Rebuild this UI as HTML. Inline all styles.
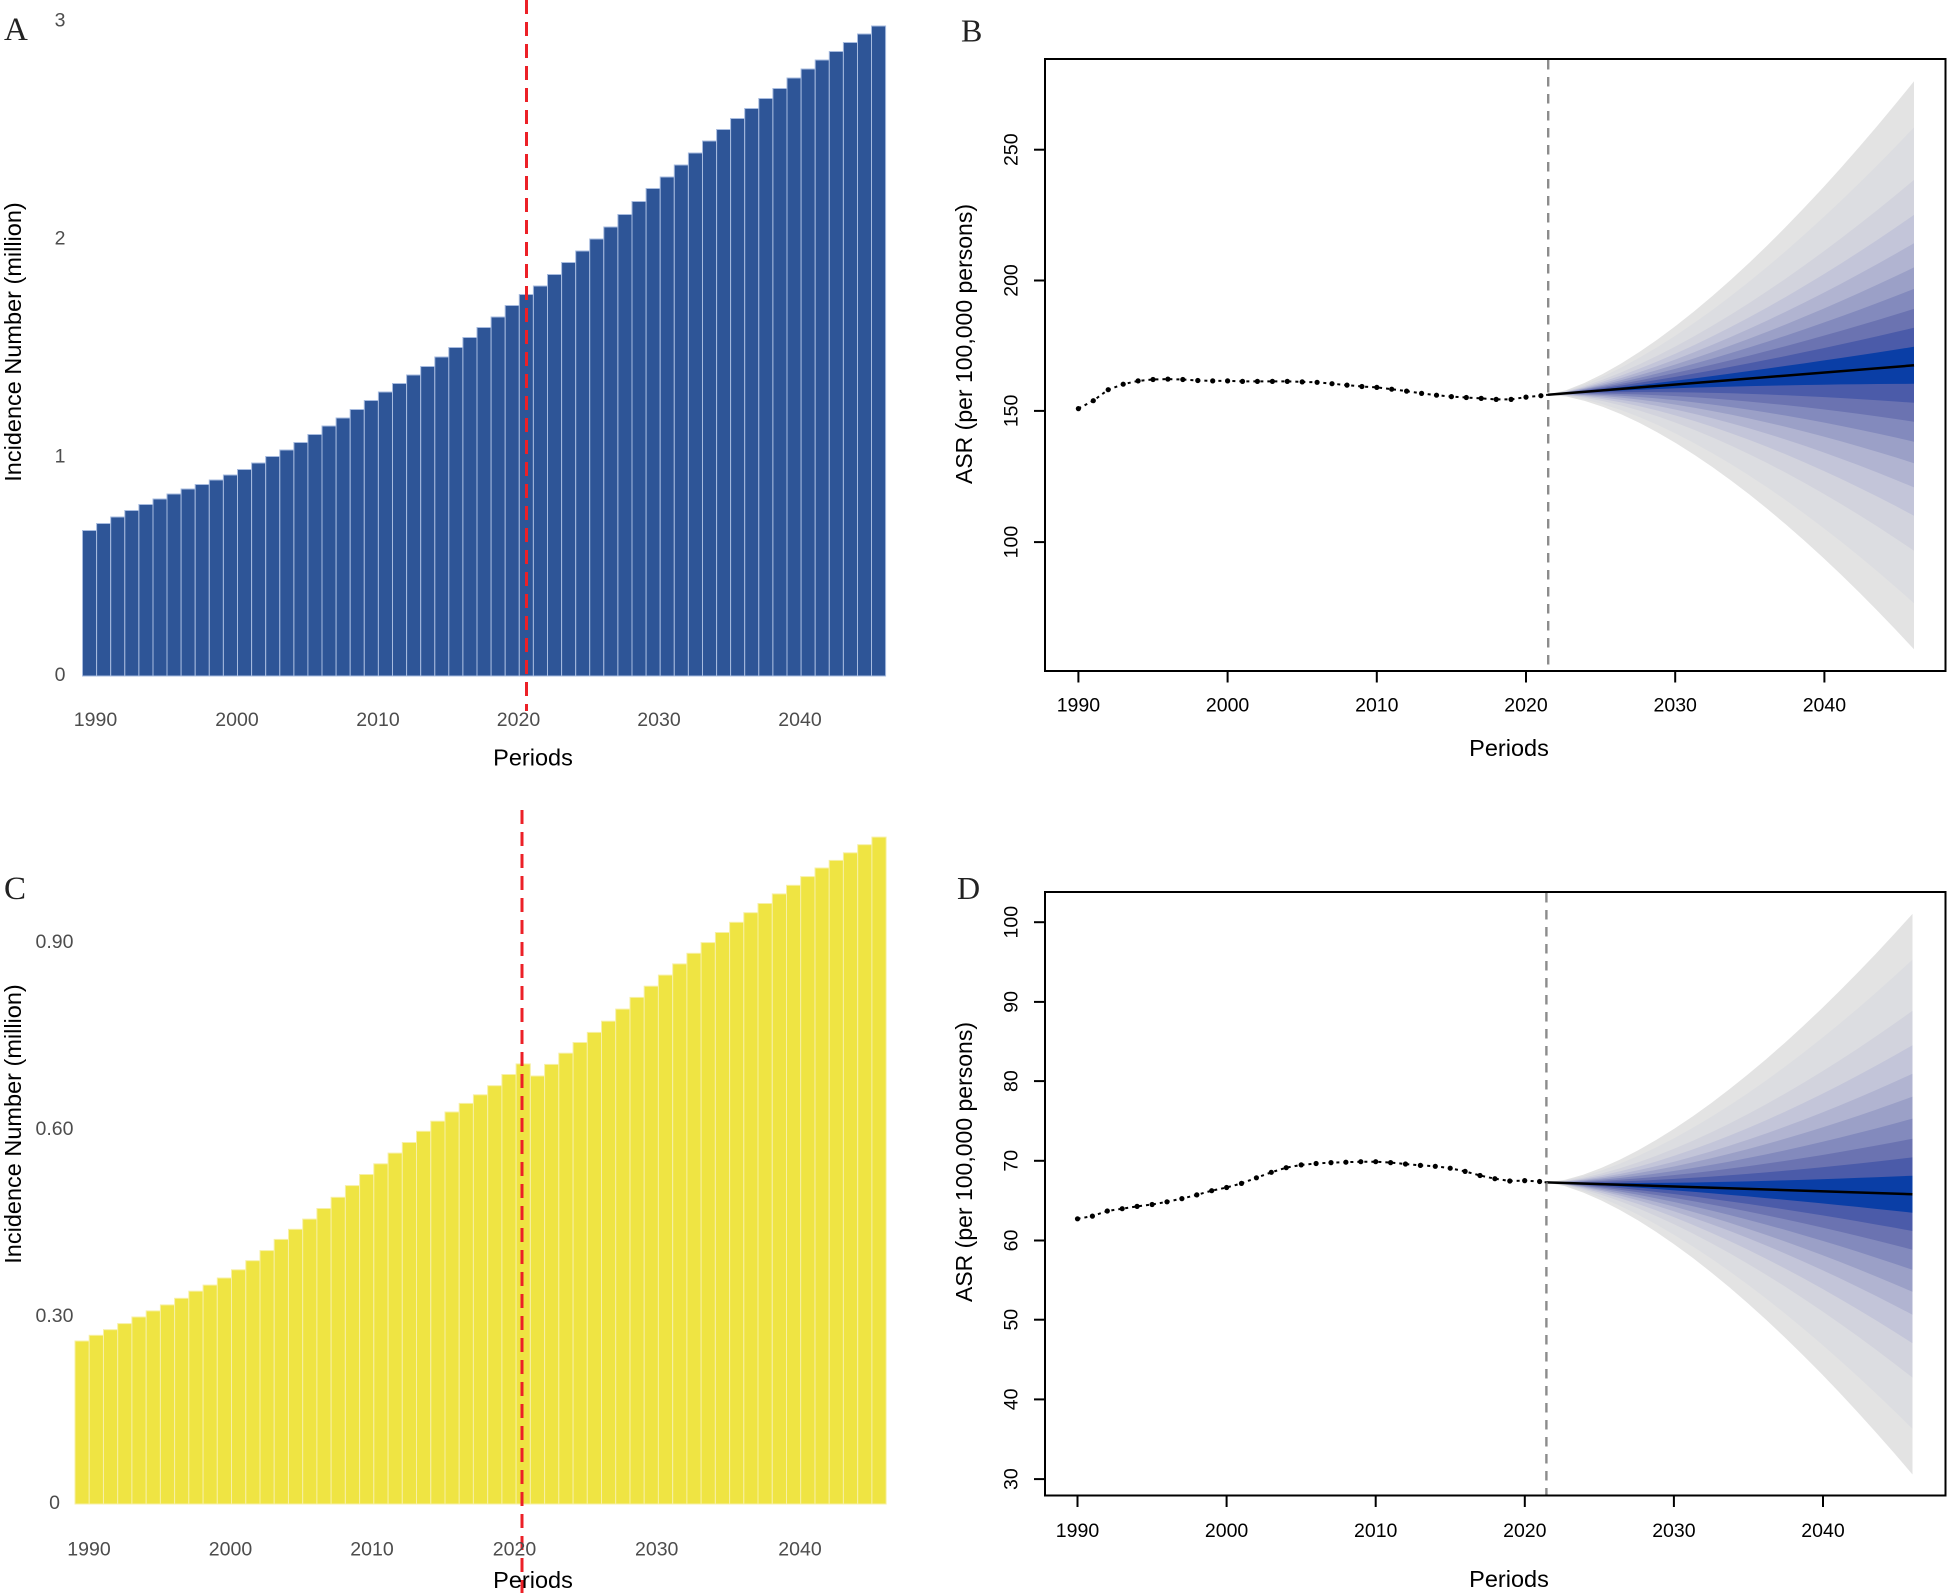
<!DOCTYPE html>
<html><head><meta charset="utf-8"><style>html,body{margin:0;padding:0;background:#fff}svg{display:block}</style></head>
<body>
<svg width="1948" height="1593" viewBox="0 0 1948 1593" xmlns="http://www.w3.org/2000/svg" font-family="'Liberation Sans', Arial, sans-serif">
<defs>
<path id="fan" d="M0,0 L.05,-.01118 L.1,-.03162 L.15,-.05809 L.2,-.08944 L.25,-.125 L.3,-.1643 L.35,-.2071 L.4,-.2530 L.45,-.3019 L.5,-.3536 L.55,-.4079 L.6,-.4648 L.65,-.5240 L.7,-.5857 L.75,-.6495 L.8,-.7155 L.85,-.7837 L.9,-.8538 L.95,-.9260 L1,-1 L1,1 L.95,.9260 L.9,.8538 L.85,.7837 L.8,.7155 L.75,.6495 L.7,.5857 L.65,.5240 L.6,.4648 L.55,.4079 L.5,.3536 L.45,.3019 L.4,.2530 L.35,.2071 L.3,.1643 L.25,.125 L.2,.08944 L.15,.05809 L.1,.03162 L.05,.01118 Z"/>
</defs>
<rect width="1948" height="1593" fill="#fff"/>

<!-- ================= PANEL A ================= -->
<g fill="#2e5597" stroke="#a7bbdf" stroke-width="1">
<rect x="82.5" y="530.5" width="14.09" height="145.5"/>
<rect x="96.6" y="523.5" width="14.09" height="152.5"/>
<rect x="110.7" y="517" width="14.09" height="159"/>
<rect x="124.8" y="510.5" width="14.09" height="165.5"/>
<rect x="138.9" y="504.5" width="14.09" height="171.5"/>
<rect x="153" y="499" width="14.09" height="177"/>
<rect x="167" y="494" width="14.09" height="182"/>
<rect x="181.1" y="489" width="14.09" height="187"/>
<rect x="195.2" y="484.5" width="14.09" height="191.5"/>
<rect x="209.3" y="480" width="14.09" height="196"/>
<rect x="223.4" y="475" width="14.09" height="201"/>
<rect x="237.5" y="469.5" width="14.09" height="206.5"/>
<rect x="251.6" y="463" width="14.09" height="213"/>
<rect x="265.7" y="456.5" width="14.09" height="219.5"/>
<rect x="279.8" y="450" width="14.09" height="226"/>
<rect x="293.9" y="442.5" width="14.09" height="233.5"/>
<rect x="307.9" y="434.5" width="14.09" height="241.5"/>
<rect x="322" y="426" width="14.09" height="250"/>
<rect x="336.1" y="418" width="14.09" height="258"/>
<rect x="350.2" y="409.5" width="14.09" height="266.5"/>
<rect x="364.3" y="400.5" width="14.09" height="275.5"/>
<rect x="378.4" y="392" width="14.09" height="284"/>
<rect x="392.5" y="383.5" width="14.09" height="292.5"/>
<rect x="406.6" y="375" width="14.09" height="301"/>
<rect x="420.7" y="366.5" width="14.09" height="309.5"/>
<rect x="434.8" y="357" width="14.09" height="319"/>
<rect x="448.8" y="347.5" width="14.09" height="328.5"/>
<rect x="462.9" y="337.5" width="14.09" height="338.5"/>
<rect x="477" y="327.5" width="14.09" height="348.5"/>
<rect x="491.1" y="317" width="14.09" height="359"/>
<rect x="505.2" y="305.5" width="14.09" height="370.5"/>
<rect x="519.3" y="294.5" width="14.09" height="381.5"/>
<rect x="533.4" y="286" width="14.09" height="390"/>
<rect x="547.5" y="274.5" width="14.09" height="401.5"/>
<rect x="561.6" y="262.5" width="14.09" height="413.5"/>
<rect x="575.7" y="251" width="14.09" height="425"/>
<rect x="589.7" y="239" width="14.09" height="437"/>
<rect x="603.8" y="227" width="14.09" height="449"/>
<rect x="617.9" y="214.5" width="14.09" height="461.5"/>
<rect x="632" y="201.5" width="14.09" height="474.5"/>
<rect x="646.1" y="188.5" width="14.09" height="487.5"/>
<rect x="660.2" y="177" width="14.09" height="499"/>
<rect x="674.3" y="165" width="14.09" height="511"/>
<rect x="688.4" y="153" width="14.09" height="523"/>
<rect x="702.5" y="141" width="14.09" height="535"/>
<rect x="716.6" y="129.5" width="14.09" height="546.5"/>
<rect x="730.6" y="118.5" width="14.09" height="557.5"/>
<rect x="744.7" y="108.5" width="14.09" height="567.5"/>
<rect x="758.8" y="98.5" width="14.09" height="577.5"/>
<rect x="772.9" y="88.5" width="14.09" height="587.5"/>
<rect x="787" y="78" width="14.09" height="598"/>
<rect x="801.1" y="69" width="14.09" height="607"/>
<rect x="815.2" y="60" width="14.09" height="616"/>
<rect x="829.3" y="51.5" width="14.09" height="624.5"/>
<rect x="843.4" y="42.5" width="14.09" height="633.5"/>
<rect x="857.5" y="34" width="14.09" height="642"/>
<rect x="871.5" y="26" width="14.09" height="650"/>
</g>
<line x1="526.5" y1="0" x2="526.5" y2="711" stroke="#ec2027" stroke-width="3" stroke-dasharray="14,8"/>
<g font-size="19.5" fill="#4d4d4d" text-anchor="middle">
<text x="60" y="19.7" dy=".35em">3</text>
<text x="60" y="237.8" dy=".35em">2</text>
<text x="60" y="455.9" dy=".35em">1</text>
<text x="60" y="674" dy=".35em">0</text>
<text x="95.5" y="719" dy=".35em">1990</text>
<text x="237" y="719" dy=".35em">2000</text>
<text x="378" y="719" dy=".35em">2010</text>
<text x="518.5" y="719" dy=".35em">2020</text>
<text x="659" y="719" dy=".35em">2030</text>
<text x="800" y="719" dy=".35em">2040</text>
</g>
<text x="533" y="757.5" dy=".35em" font-size="23.5" text-anchor="middle" fill="#000">Periods</text>
<text transform="translate(13,342) rotate(-90)" dy=".35em" font-size="23.5" text-anchor="middle" fill="#000">Incidence Number (million)</text>
<text x="4" y="40" font-family="'Liberation Serif', serif" font-size="33" fill="#222">A</text>

<!-- ================= PANEL B ================= -->
<g>
<use href="#fan" transform="translate(1548,394.8) matrix(366,-29.5,0,284,0,0)" fill="#e3e3e3"/>
<use href="#fan" transform="translate(1548,394.8) matrix(366,-29.5,0,237.9,0,0)" fill="#dcdde1"/>
<use href="#fan" transform="translate(1548,394.8) matrix(366,-29.5,0,185.4,0,0)" fill="#d2d3dd"/>
<use href="#fan" transform="translate(1548,394.8) matrix(366,-29.5,0,150.4,0,0)" fill="#c3c5d9"/>
<use href="#fan" transform="translate(1548,394.8) matrix(366,-29.5,0,122.1,0,0)" fill="#b1b4d1"/>
<use href="#fan" transform="translate(1548,394.8) matrix(366,-29.5,0,97.9,0,0)" fill="#9ba0c7"/>
<use href="#fan" transform="translate(1548,394.8) matrix(366,-29.5,0,76.4,0,0)" fill="#838abd"/>
<use href="#fan" transform="translate(1548,394.8) matrix(366,-29.5,0,56.4,0,0)" fill="#6b73b1"/>
<use href="#fan" transform="translate(1548,394.8) matrix(366,-29.5,0,37.5,0,0)" fill="#4b5ba9"/>
<use href="#fan" transform="translate(1548,394.8) matrix(366,-29.5,0,18.5,0,0)" fill="#0a3ea6"/>
</g>
<line x1="1548" y1="394.8" x2="1914" y2="365.3" stroke="#000" stroke-width="2.5"/>
<line x1="1548.2" y1="60" x2="1548.2" y2="670" stroke="#8c8c8c" stroke-width="2.4" stroke-dasharray="9.5,7.5"/>
<polyline fill="none" stroke="#000" stroke-width="2" stroke-dasharray="3,4" points="1078.4,408.6 1093.3,400.7 1108.2,389.7 1123.2,384.2 1138.1,380.9 1153,379.5 1167.9,379.1 1182.8,379.5 1197.8,380.5 1212.7,380.9 1227.6,380.9 1242.5,381.4 1257.4,381.4 1272.4,381.4 1287.3,381.4 1302.2,381.9 1317.1,382.3 1332,383.7 1347,385.1 1361.9,386.5 1376.8,387.4 1391.7,389.2 1406.6,391.1 1421.6,393.4 1436.5,395.2 1451.4,396.6 1466.3,397.5 1481.2,398.4 1496.2,399.4 1511.1,399.4 1526,397.1 1540.9,395.7 1548,394.8"/>
<g fill="#000">
<circle cx="1078.4" cy="408.6" r="2.6"/><circle cx="1093.3" cy="400.7" r="2.6"/><circle cx="1108.2" cy="389.7" r="2.6"/><circle cx="1123.2" cy="384.2" r="2.6"/><circle cx="1138.1" cy="380.9" r="2.6"/><circle cx="1153" cy="379.5" r="2.6"/><circle cx="1167.9" cy="379.1" r="2.6"/><circle cx="1182.8" cy="379.5" r="2.6"/><circle cx="1197.8" cy="380.5" r="2.6"/><circle cx="1212.7" cy="380.9" r="2.6"/><circle cx="1227.6" cy="380.9" r="2.6"/><circle cx="1242.5" cy="381.4" r="2.6"/><circle cx="1257.4" cy="381.4" r="2.6"/><circle cx="1272.4" cy="381.4" r="2.6"/><circle cx="1287.3" cy="381.4" r="2.6"/><circle cx="1302.2" cy="381.9" r="2.6"/><circle cx="1317.1" cy="382.3" r="2.6"/><circle cx="1332" cy="383.7" r="2.6"/><circle cx="1347" cy="385.1" r="2.6"/><circle cx="1361.9" cy="386.5" r="2.6"/><circle cx="1376.8" cy="387.4" r="2.6"/><circle cx="1391.7" cy="389.2" r="2.6"/><circle cx="1406.6" cy="391.1" r="2.6"/><circle cx="1421.6" cy="393.4" r="2.6"/><circle cx="1436.5" cy="395.2" r="2.6"/><circle cx="1451.4" cy="396.6" r="2.6"/><circle cx="1466.3" cy="397.5" r="2.6"/><circle cx="1481.2" cy="398.4" r="2.6"/><circle cx="1496.2" cy="399.4" r="2.6"/><circle cx="1511.1" cy="399.4" r="2.6"/><circle cx="1526" cy="397.1" r="2.6"/><circle cx="1540.9" cy="395.7" r="2.6"/>
</g>
<rect x="1045" y="59" width="900.5" height="612" fill="none" stroke="#000" stroke-width="2"/>
<g stroke="#000" stroke-width="2">
<line x1="1034" y1="149.7" x2="1045" y2="149.7"/>
<line x1="1034" y1="280.5" x2="1045" y2="280.5"/>
<line x1="1034" y1="410.9" x2="1045" y2="410.9"/>
<line x1="1034" y1="542.1" x2="1045" y2="542.1"/>
<line x1="1078.4" y1="671" x2="1078.4" y2="682.5"/>
<line x1="1227.6" y1="671" x2="1227.6" y2="682.5"/>
<line x1="1376.8" y1="671" x2="1376.8" y2="682.5"/>
<line x1="1526" y1="671" x2="1526" y2="682.5"/>
<line x1="1675.2" y1="671" x2="1675.2" y2="682.5"/>
<line x1="1824.4" y1="671" x2="1824.4" y2="682.5"/>
</g>
<g font-size="19.5" fill="#000" text-anchor="middle">
<text transform="translate(1010.7,149.7) rotate(-90)" dy=".35em">250</text>
<text transform="translate(1010.7,280.5) rotate(-90)" dy=".35em">200</text>
<text transform="translate(1010.7,410.9) rotate(-90)" dy=".35em">150</text>
<text transform="translate(1010.7,542.1) rotate(-90)" dy=".35em">100</text>
<text x="1078.4" y="704.7" dy=".35em">1990</text>
<text x="1227.6" y="704.7" dy=".35em">2000</text>
<text x="1376.8" y="704.7" dy=".35em">2010</text>
<text x="1526" y="704.7" dy=".35em">2020</text>
<text x="1675.2" y="704.7" dy=".35em">2030</text>
<text x="1824.4" y="704.7" dy=".35em">2040</text>
</g>
<text x="1509" y="748" dy=".35em" font-size="23.5" text-anchor="middle" fill="#000">Periods</text>
<text transform="translate(964,344) rotate(-90)" dy=".35em" font-size="23" text-anchor="middle" fill="#000">ASR (per 100,000 persons)</text>
<text x="961" y="41.5" font-family="'Liberation Serif', serif" font-size="32" fill="#222">B</text>

<!-- ================= PANEL C ================= -->
<g fill="#efe443" stroke="#f7f0a6" stroke-width="1">
<rect x="75" y="1341" width="14.23" height="163"/>
<rect x="89.2" y="1335.3" width="14.23" height="168.7"/>
<rect x="103.5" y="1329.7" width="14.23" height="174.3"/>
<rect x="117.7" y="1323.6" width="14.23" height="180.4"/>
<rect x="131.9" y="1317" width="14.23" height="187"/>
<rect x="146.2" y="1310.9" width="14.23" height="193.1"/>
<rect x="160.4" y="1304.9" width="14.23" height="199.1"/>
<rect x="174.6" y="1298.3" width="14.23" height="205.7"/>
<rect x="188.8" y="1291.2" width="14.23" height="212.8"/>
<rect x="203.1" y="1285.1" width="14.23" height="218.9"/>
<rect x="217.3" y="1278" width="14.23" height="226"/>
<rect x="231.5" y="1269.8" width="14.23" height="234.2"/>
<rect x="245.8" y="1260.7" width="14.23" height="243.3"/>
<rect x="260" y="1250.6" width="14.23" height="253.4"/>
<rect x="274.2" y="1239.4" width="14.23" height="264.6"/>
<rect x="288.5" y="1229.3" width="14.23" height="274.7"/>
<rect x="302.7" y="1219.1" width="14.23" height="284.9"/>
<rect x="316.9" y="1208.5" width="14.23" height="295.5"/>
<rect x="331.1" y="1197.3" width="14.23" height="306.7"/>
<rect x="345.4" y="1185.6" width="14.23" height="318.4"/>
<rect x="359.6" y="1174.5" width="14.23" height="329.5"/>
<rect x="373.8" y="1163.8" width="14.23" height="340.2"/>
<rect x="388.1" y="1153.1" width="14.23" height="350.9"/>
<rect x="402.3" y="1142.5" width="14.23" height="361.5"/>
<rect x="416.5" y="1131.3" width="14.23" height="372.7"/>
<rect x="430.8" y="1121.2" width="14.23" height="382.8"/>
<rect x="445" y="1112" width="14.23" height="392"/>
<rect x="459.2" y="1103.4" width="14.23" height="400.6"/>
<rect x="473.4" y="1094.8" width="14.23" height="409.2"/>
<rect x="487.7" y="1085.7" width="14.23" height="418.3"/>
<rect x="501.9" y="1074.5" width="14.23" height="429.5"/>
<rect x="516.1" y="1063.9" width="14.23" height="440.1"/>
<rect x="530.4" y="1076" width="14.23" height="428"/>
<rect x="544.6" y="1064.4" width="14.23" height="439.6"/>
<rect x="558.8" y="1053.2" width="14.23" height="450.8"/>
<rect x="573.1" y="1042.5" width="14.23" height="461.5"/>
<rect x="587.3" y="1032.4" width="14.23" height="471.6"/>
<rect x="601.5" y="1021.2" width="14.23" height="482.8"/>
<rect x="615.7" y="1009.1" width="14.23" height="494.9"/>
<rect x="630" y="997.4" width="14.23" height="506.6"/>
<rect x="644.2" y="986.2" width="14.23" height="517.8"/>
<rect x="658.4" y="975.1" width="14.23" height="528.9"/>
<rect x="672.7" y="963.9" width="14.23" height="540.1"/>
<rect x="686.9" y="953.3" width="14.23" height="550.7"/>
<rect x="701.1" y="942.6" width="14.23" height="561.4"/>
<rect x="715.4" y="932.5" width="14.23" height="571.5"/>
<rect x="729.6" y="922.3" width="14.23" height="581.7"/>
<rect x="743.8" y="912.7" width="14.23" height="591.3"/>
<rect x="758" y="903.5" width="14.23" height="600.5"/>
<rect x="772.3" y="893.9" width="14.23" height="610.1"/>
<rect x="786.5" y="885.3" width="14.23" height="618.7"/>
<rect x="800.7" y="876.6" width="14.23" height="627.4"/>
<rect x="815" y="868" width="14.23" height="636"/>
<rect x="829.2" y="860.4" width="14.23" height="643.6"/>
<rect x="843.4" y="852.8" width="14.23" height="651.2"/>
<rect x="857.7" y="844.7" width="14.23" height="659.3"/>
<rect x="871.9" y="837.1" width="14.23" height="666.9"/>
</g>
<line x1="522" y1="810" x2="522" y2="1593" stroke="#ec2027" stroke-width="3" stroke-dasharray="14,8"/>
<g font-size="19.5" fill="#4d4d4d" text-anchor="middle">
<text x="54.5" y="941" dy=".35em">0.90</text>
<text x="54.5" y="1128" dy=".35em">0.60</text>
<text x="54.5" y="1315" dy=".35em">0.30</text>
<text x="54.5" y="1502.3" dy=".35em">0</text>
<text x="89" y="1548.5" dy=".35em">1990</text>
<text x="230.5" y="1548.5" dy=".35em">2000</text>
<text x="372" y="1548.5" dy=".35em">2010</text>
<text x="514.5" y="1548.5" dy=".35em">2020</text>
<text x="656.7" y="1548.5" dy=".35em">2030</text>
<text x="800" y="1548.5" dy=".35em">2040</text>
</g>
<text x="533" y="1580" dy=".35em" font-size="23.5" text-anchor="middle" fill="#000">Periods</text>
<text transform="translate(13,1124) rotate(-90)" dy=".35em" font-size="23.5" text-anchor="middle" fill="#000">Incidence Number (million)</text>
<text x="4" y="899" font-family="'Liberation Serif', serif" font-size="33" fill="#222">C</text>

<!-- ================= PANEL D ================= -->
<g>
<use href="#fan" transform="translate(1546.5,1182.4) matrix(366,11.8,0,280.3,0,0)" fill="#e3e3e3"/>
<use href="#fan" transform="translate(1546.5,1182.4) matrix(366,11.8,0,234.6,0,0)" fill="#dcdde1"/>
<use href="#fan" transform="translate(1546.5,1182.4) matrix(366,11.8,0,183.4,0,0)" fill="#d2d3dd"/>
<use href="#fan" transform="translate(1546.5,1182.4) matrix(366,11.8,0,149,0,0)" fill="#c3c5d9"/>
<use href="#fan" transform="translate(1546.5,1182.4) matrix(366,11.8,0,120.5,0,0)" fill="#b1b4d1"/>
<use href="#fan" transform="translate(1546.5,1182.4) matrix(366,11.8,0,97.6,0,0)" fill="#9ba0c7"/>
<use href="#fan" transform="translate(1546.5,1182.4) matrix(366,11.8,0,75.6,0,0)" fill="#838abd"/>
<use href="#fan" transform="translate(1546.5,1182.4) matrix(366,11.8,0,55.5,0,0)" fill="#6b73b1"/>
<use href="#fan" transform="translate(1546.5,1182.4) matrix(366,11.8,0,36.8,0,0)" fill="#4b5ba9"/>
<use href="#fan" transform="translate(1546.5,1182.4) matrix(366,11.8,0,18.5,0,0)" fill="#0a3ea6"/>
</g>
<line x1="1546.5" y1="1182.4" x2="1912.5" y2="1194.2" stroke="#000" stroke-width="2.5"/>
<line x1="1546.4" y1="893" x2="1546.4" y2="1495" stroke="#8c8c8c" stroke-width="2.4" stroke-dasharray="9.5,7.5"/>
<polyline fill="none" stroke="#000" stroke-width="2" stroke-dasharray="3,4" points="1077.5,1218.8 1092.4,1216.1 1107.3,1211 1122.2,1208.7 1137.1,1206.4 1152.1,1204.5 1167,1201.8 1181.9,1198.6 1196.8,1194.9 1211.7,1190.7 1226.6,1187.5 1241.5,1183.4 1256.4,1177.8 1271.3,1172.3 1286.2,1167.7 1301.2,1164.9 1316.1,1163.5 1331,1162.6 1345.9,1162.2 1360.8,1161.7 1375.7,1161.7 1390.6,1162.6 1405.5,1164 1420.4,1165.4 1435.3,1166.3 1450.2,1168.2 1465.1,1171.4 1480,1175.5 1494.9,1178.7 1509.8,1181 1524.7,1180.6 1539.6,1181.5 1546.5,1182.4"/>
<g fill="#000">
<circle cx="1077.5" cy="1218.8" r="2.6"/><circle cx="1092.4" cy="1216.1" r="2.6"/><circle cx="1107.3" cy="1211" r="2.6"/><circle cx="1122.2" cy="1208.7" r="2.6"/><circle cx="1137.1" cy="1206.4" r="2.6"/><circle cx="1152.1" cy="1204.5" r="2.6"/><circle cx="1167" cy="1201.8" r="2.6"/><circle cx="1181.9" cy="1198.6" r="2.6"/><circle cx="1196.8" cy="1194.9" r="2.6"/><circle cx="1211.7" cy="1190.7" r="2.6"/><circle cx="1226.6" cy="1187.5" r="2.6"/><circle cx="1241.5" cy="1183.4" r="2.6"/><circle cx="1256.4" cy="1177.8" r="2.6"/><circle cx="1271.3" cy="1172.3" r="2.6"/><circle cx="1286.2" cy="1167.7" r="2.6"/><circle cx="1301.2" cy="1164.9" r="2.6"/><circle cx="1316.1" cy="1163.5" r="2.6"/><circle cx="1331" cy="1162.6" r="2.6"/><circle cx="1345.9" cy="1162.2" r="2.6"/><circle cx="1360.8" cy="1161.7" r="2.6"/><circle cx="1375.7" cy="1161.7" r="2.6"/><circle cx="1390.6" cy="1162.6" r="2.6"/><circle cx="1405.5" cy="1164" r="2.6"/><circle cx="1420.4" cy="1165.4" r="2.6"/><circle cx="1435.3" cy="1166.3" r="2.6"/><circle cx="1450.2" cy="1168.2" r="2.6"/><circle cx="1465.1" cy="1171.4" r="2.6"/><circle cx="1480" cy="1175.5" r="2.6"/><circle cx="1494.9" cy="1178.7" r="2.6"/><circle cx="1509.8" cy="1181" r="2.6"/><circle cx="1524.7" cy="1180.6" r="2.6"/><circle cx="1539.6" cy="1181.5" r="2.6"/>
</g>
<rect x="1045" y="892" width="900.5" height="603.5" fill="none" stroke="#000" stroke-width="2"/>
<g stroke="#000" stroke-width="2">
<line x1="1034" y1="922.2" x2="1045" y2="922.2"/>
<line x1="1034" y1="1001.9" x2="1045" y2="1001.9"/>
<line x1="1034" y1="1081.1" x2="1045" y2="1081.1"/>
<line x1="1034" y1="1160.8" x2="1045" y2="1160.8"/>
<line x1="1034" y1="1240.5" x2="1045" y2="1240.5"/>
<line x1="1034" y1="1319.7" x2="1045" y2="1319.7"/>
<line x1="1034" y1="1399.4" x2="1045" y2="1399.4"/>
<line x1="1034" y1="1479.1" x2="1045" y2="1479.1"/>
<line x1="1077.5" y1="1495.6" x2="1077.5" y2="1507"/>
<line x1="1226.6" y1="1495.6" x2="1226.6" y2="1507"/>
<line x1="1375.7" y1="1495.6" x2="1375.7" y2="1507"/>
<line x1="1524.8" y1="1495.6" x2="1524.8" y2="1507"/>
<line x1="1673.9" y1="1495.6" x2="1673.9" y2="1507"/>
<line x1="1823" y1="1495.6" x2="1823" y2="1507"/>
</g>
<g font-size="19.5" fill="#000" text-anchor="middle">
<text transform="translate(1010.7,922.2) rotate(-90)" dy=".35em">100</text>
<text transform="translate(1010.7,1001.9) rotate(-90)" dy=".35em">90</text>
<text transform="translate(1010.7,1081.1) rotate(-90)" dy=".35em">80</text>
<text transform="translate(1010.7,1160.8) rotate(-90)" dy=".35em">70</text>
<text transform="translate(1010.7,1240.5) rotate(-90)" dy=".35em">60</text>
<text transform="translate(1010.7,1319.7) rotate(-90)" dy=".35em">50</text>
<text transform="translate(1010.7,1399.4) rotate(-90)" dy=".35em">40</text>
<text transform="translate(1010.7,1479.1) rotate(-90)" dy=".35em">30</text>
<text x="1077.5" y="1530.2" dy=".35em">1990</text>
<text x="1226.6" y="1530.2" dy=".35em">2000</text>
<text x="1375.7" y="1530.2" dy=".35em">2010</text>
<text x="1524.8" y="1530.2" dy=".35em">2020</text>
<text x="1673.9" y="1530.2" dy=".35em">2030</text>
<text x="1823" y="1530.2" dy=".35em">2040</text>
</g>
<text x="1509" y="1579" dy=".35em" font-size="23.5" text-anchor="middle" fill="#000">Periods</text>
<text transform="translate(964,1162) rotate(-90)" dy=".35em" font-size="23" text-anchor="middle" fill="#000">ASR (per 100,000 persons)</text>
<text x="957" y="899" font-family="'Liberation Serif', serif" font-size="32" fill="#222">D</text>
</svg>
</body></html>
